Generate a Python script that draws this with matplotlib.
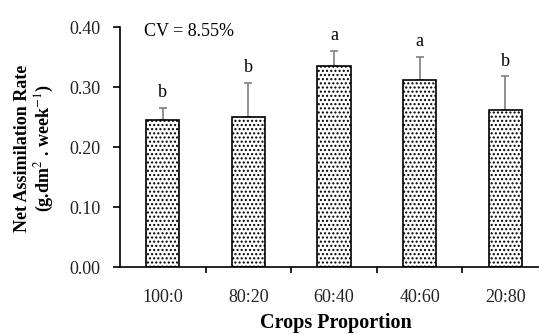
import matplotlib
matplotlib.use("Agg")
import matplotlib.pyplot as plt
import numpy as np

# values
proportions = ["100:0", "80:20", "60:40", "40:60", "20:80"]
nar = [0.245, 0.250, 0.335, 0.312, 0.261]
err_up = [0.020, 0.057, 0.025, 0.038, 0.057]
letters = ["b", "b", "a", "a", "b"]
cv_text = "CV = 8.55%"

plt.rcParams["font.family"] = ["Liberation Serif", "DejaVu Serif"]
plt.rcParams["mathtext.fontset"] = "stix"
plt.rcParams["hatch.linewidth"] = 1.0

fig = plt.figure(figsize=(5.39, 3.34), dpi=100)
ax = fig.add_axes([120 / 539, 1 - 267 / 334, 428 / 539, 240 / 334])

x = np.arange(len(proportions))
ax.bar(x, nar, width=0.39, color="white", edgecolor="black", linewidth=1.2,
       hatch="....", zorder=2)
ax.errorbar(x, nar, yerr=[np.zeros(len(nar)), err_up], fmt="none",
            ecolor="#7f7f7f", elinewidth=1.2, capsize=3, capthick=1.2, zorder=1)

for xi, v, e, l in zip(x, nar, err_up, letters):
    ax.text(xi, v + e + 0.011, l, ha="center", va="bottom", fontsize=13)

ax.text(0.31, 0.392, cv_text, ha="center", va="center", fontsize=13)

ax.set_xlim(-0.5, 4.5)
ax.set_ylim(0, 0.40)
ax.set_yticks([0.0, 0.1, 0.2, 0.3, 0.4])
ax.set_yticklabels(["0.00", "0.10", "0.20", "0.30", "0.40"])
ax.set_xticks(x)
ax.set_xticklabels(proportions)
ax.set_xticks(np.arange(0.5, 4.5, 1.0), minor=True)
ax.tick_params(axis="x", which="major", length=0, pad=16, labelsize=13,
               colors="#222222")
ax.tick_params(axis="x", which="minor", length=4, width=1.2, direction="out")
ax.tick_params(axis="y", length=5, width=1.2, pad=9, labelsize=13,
               colors="#222222")
ax.tick_params(axis="both", which="both", color="black")

for s in ["top", "right"]:
    ax.spines[s].set_visible(False)
for s in ["left", "bottom"]:
    ax.spines[s].set_linewidth(1.2)

fig.text(35 / 539, 1 - 148 / 334,
         "Net Assimilation Rate\n(g.dm$^{2}$ . week$^{-1}$)",
         rotation=90, ha="center", va="center", multialignment="center",
         fontsize=13, fontweight="bold", linespacing=1.15)
fig.text(336 / 539, 1 - 323 / 334, "Crops Proportion", ha="center",
         va="center", fontsize=14.5, fontweight="bold")

fig.savefig("out.png", dpi=100)
